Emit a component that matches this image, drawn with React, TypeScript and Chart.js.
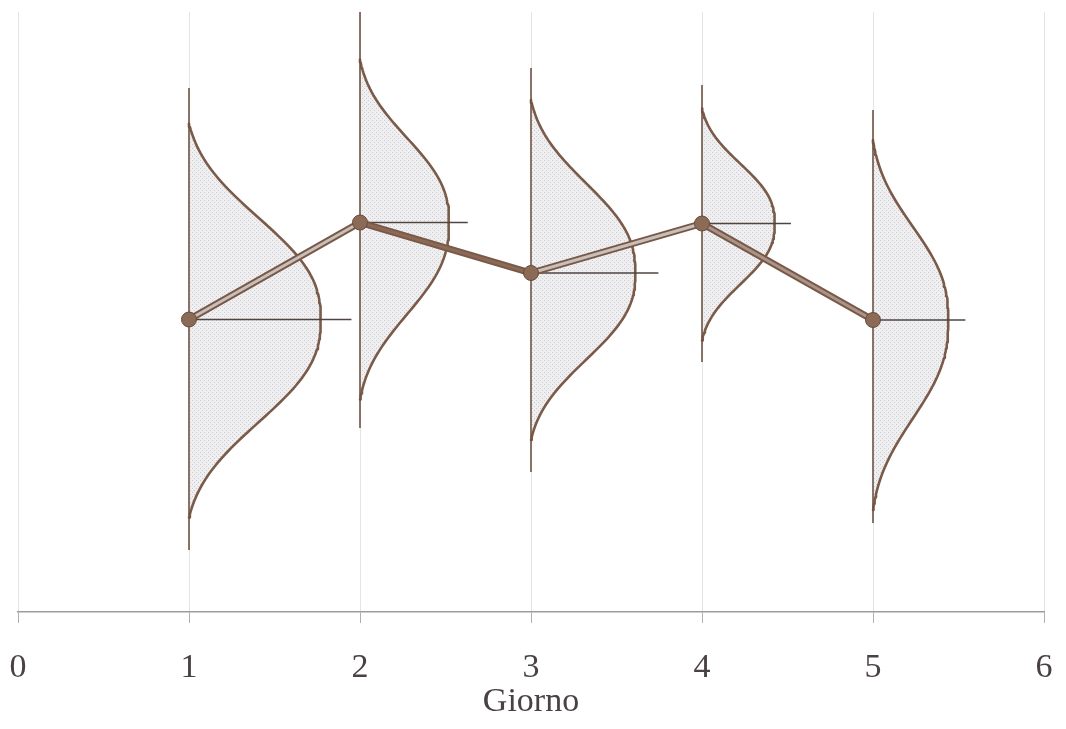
import React, { useEffect, useRef } from 'react';
import { Chart, registerables } from 'chart.js';

Chart.register(...registerables);

// ---- Data ----
const xTickValues = [0, 1, 2, 3, 4, 5, 6];
const xTitle = 'Giorno';
const days = [1, 2, 3, 4, 5];
const means = [5.85, 7.79, 6.78, 7.77, 5.84];
// extent of each bell curve above / below the mean (y units)
const spreadUp = [3.92, 3.26, 3.46, 2.3, 3.6];
const spreadDown = [3.96, 3.54, 3.34, 2.34, 3.8];
// maximum horizontal width of each bell curve (x units)
const peakWidths = [0.77, 0.52, 0.61, 0.425, 0.44];
// vertical range line of each day
const rangeLow = [1.24, 3.68, 2.8, 5.0, 1.78];
const rangeHigh = [10.48, 12.0, 10.88, 10.54, 10.04];
// horizontal mean marker length (x units)
const meanMarkLength = [0.95, 0.63, 0.745, 0.52, 0.54];

// style for the connecting "tube" highlight per segment
const overlayColors = ['#c6bfba', '#8a6a57', '#c6bfba', '#a8948a'];

function bellShape(t: number): number {
  const c = 3.08;
  const p = 2.5;
  const g = Math.exp(-c * Math.pow(t, p));
  const g1 = Math.exp(-c);
  return Math.max(0, (g - g1) / (1 - g1));
}

export default function App() {
  const ref = useRef<HTMLCanvasElement>(null);

  useEffect(() => {
    document.body.style.margin = '0';
    const canvas = ref.current;
    if (!canvas) return;
    const ctx = canvas.getContext('2d');
    if (!ctx) return;

    const pc = document.createElement('canvas');
    pc.width = 4;
    pc.height = 4;
    const pctx = pc.getContext('2d')!;
    pctx.fillStyle = '#efeff1';
    pctx.fillRect(0, 0, 4, 4);
    pctx.fillStyle = '#cbcbd0';
    pctx.fillRect(0, 0, 1, 1);
    pctx.fillRect(2, 2, 1, 1);
    const pattern = ctx.createPattern(pc, 'repeat') as CanvasPattern;

    const datasets: any[] = [];
    days.forEach((d, i) => {
      const pts: { x: number; y: number }[] = [];
      const N = 120;
      for (let k = 0; k <= N; k++) {
        const t = -1 + (2 * k) / N;
        const y = means[i] + (t < 0 ? t * spreadDown[i] : t * spreadUp[i]);
        pts.push({ x: d + peakWidths[i] * bellShape(Math.abs(t)), y });
      }
      datasets.push({
        data: pts,
        borderColor: '#7a5a48',
        borderWidth: 2.6,
        borderJoinStyle: 'round',
        borderCapStyle: 'round',
        backgroundColor: pattern,
        fill: 'shape',
        pointRadius: 0,
        tension: 0,
        order: 10,
      });
      datasets.push({
        data: [
          { x: d, y: rangeLow[i] },
          { x: d, y: rangeHigh[i] },
        ],
        borderColor: '#6e5242',
        borderWidth: 1.6,
        pointRadius: 0,
        fill: false,
        order: 9,
      });
      datasets.push({
        data: [
          { x: d, y: means[i] },
          { x: d + meanMarkLength[i], y: means[i] },
        ],
        borderColor: '#4f4440',
        borderWidth: 1.6,
        pointRadius: 0,
        fill: false,
        order: 8,
      });
    });

    const meanPts = days.map((d, i) => ({ x: d, y: means[i] }));
    datasets.push({
      data: meanPts,
      borderColor: '#7a5846',
      borderWidth: 7,
      pointRadius: 0,
      fill: false,
      order: 3,
      borderJoinStyle: 'round',
    });
    datasets.push({
      data: meanPts,
      borderColor: '#c6bfba',
      borderWidth: 3,
      pointRadius: 0,
      fill: false,
      order: 2,
      segment: {
        borderColor: (c: any) => overlayColors[c.p0DataIndex],
      },
    });
    datasets.push({
      data: meanPts,
      showLine: false,
      pointRadius: 7.5,
      pointBackgroundColor: '#8b6a56',
      pointBorderColor: '#694a3a',
      pointBorderWidth: 1,
      order: 1,
    });

    const serif = '"Liberation Serif", "Times New Roman", serif';

    const chart = new Chart(ctx, {
      type: 'line',
      data: { datasets },
      options: {
        animation: false,
        responsive: true,
        maintainAspectRatio: false,
        events: [],
        layout: { padding: { left: 18, right: 22, top: 12, bottom: 0 } },
        plugins: {
          legend: { display: false },
          tooltip: { enabled: false },
        },
        scales: {
          x: {
            type: 'linear',
            min: 0,
            max: 6,
            afterBuildTicks: (s: any) => {
              s.ticks = xTickValues.map((v) => ({ value: v }));
            },
            ticks: {
              font: { family: serif, size: 34 },
              color: '#4a4242',
              padding: 25,
              maxRotation: 0,
            },
            grid: {
              color: '#e4e4e4',
              lineWidth: 1,
              tickLength: 11,
              tickColor: '#b0b0b0',
            },
            border: { color: '#9c9c9c', width: 1.5 },
            title: {
              display: true,
              text: xTitle,
              font: { family: serif, size: 34 },
              color: '#4a4242',
              padding: { top: 0, bottom: 7 },
            },
            afterFit: (s: any) => {
              s.height = 117;
              s.paddingLeft = 0;
              s.paddingRight = 0;
            },
          },
          y: { type: 'linear', min: 0, max: 12, display: false },
        },
      },
    });
    return () => chart.destroy();
  }, []);

  return (
    <div style={{ position: 'absolute', left: 0, top: 0, width: 1066, height: 729, background: '#fff' }}>
      <canvas ref={ref} />
    </div>
  );
}
